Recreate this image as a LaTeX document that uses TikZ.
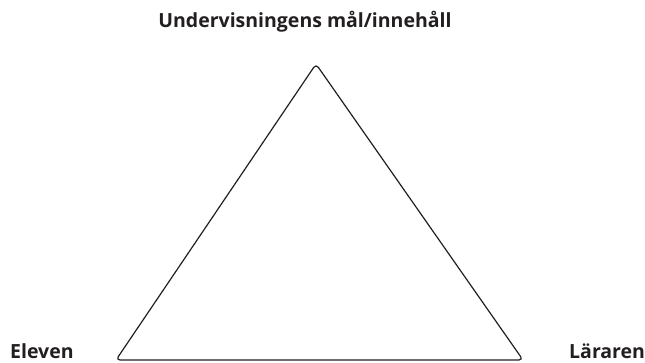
\documentclass[tikz,border=0pt]{standalone}
\usepackage{fontspec}
\setmainfont{Open Sans}
\usetikzlibrary{positioning}
\definecolor{ink}{HTML}{231F20}

\begin{document}
\begin{tikzpicture}[x=1pt, y=-1pt,
        every node/.style={font=\fontsize{19.5}{22}\selectfont\bfseries, text=ink},
        lbl/.style={inner sep=0pt}]
      \useasboundingbox (0,0) rectangle (645,363);
      \coordinate (top) at (316,64);
      \coordinate (left) at (116,360);
      \coordinate (right) at (523,360);
      \draw[ink, line width=1.2pt, rounded corners=4pt, line join=round]
        (top) -- (right) -- (left) -- cycle;
      \node[lbl, anchor=base] (goal) at (305,28) {Undervisningens mål/innehåll};
      \node[lbl, anchor=base west] (pupil) at (10,358) {Eleven};
      \node[lbl, anchor=base west] (teacher) at (569,358) {Läraren};
    \end{tikzpicture}
\end{document}
